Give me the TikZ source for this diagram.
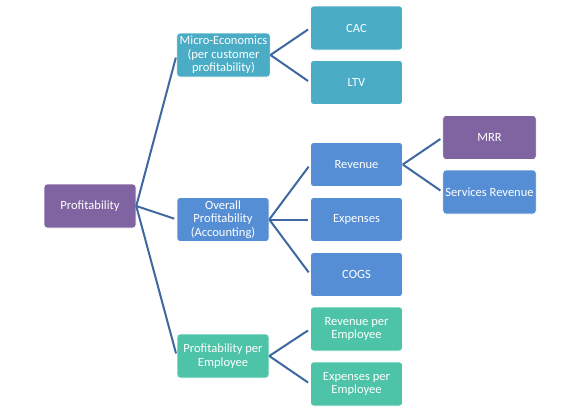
\documentclass[tikz,border=0pt]{standalone}
\usepackage{fontspec}
\setmainfont{Carlito}
\definecolor{purpbox}{RGB}{128,100,162}
\definecolor{tealbox}{RGB}{75,172,198}
\definecolor{bluebox}{RGB}{85,142,213}
\definecolor{greenbox}{RGB}{77,196,168}
\definecolor{linkcol}{RGB}{62,104,160}
\tikzset{
  box/.style={rounded corners=2.5pt, draw=white, line width=0.4pt, text=white,
    minimum width=69pt, minimum height=33pt, align=center, inner sep=0.5pt,
    font=\fontsize{9.4}{10.2}\selectfont},
  link/.style={draw=linkcol, line width=1.5pt, shorten >=2pt}
}
\begin{document}
\begin{tikzpicture}[x=0.75pt,y=-0.75pt]
      \useasboundingbox (0,0) rectangle (564,418);
      % Root
      \node[box, fill=purpbox] (prof) at (90,206) {Profitability};
      % Second level
      \node[box, fill=tealbox, minimum width=70pt] (micro) at (223.5,55) {Micro-Economics\\(per customer\\profitability)};
      \node[box, fill=bluebox] (overall) at (223,219.5) {Overall\\Profitability\\(Accounting)};
      \node[box, fill=greenbox] (peremp) at (223,356) {Profitability per\\Employee};
      % Third level
      \node[box, fill=tealbox] (cac) at (356.5,28) {CAC};
      \node[box, fill=tealbox] (ltv) at (356.5,82.5) {LTV};
      \node[box, fill=bluebox] (rev) at (356.5,164.5) {Revenue};
      \node[box, fill=bluebox] (exp) at (356.5,219.5) {Expenses};
      \node[box, fill=bluebox] (cogs) at (356.5,274.5) {COGS};
      \node[box, fill=greenbox] (revemp) at (356.5,329) {Revenue per\\Employee};
      \node[box, fill=greenbox] (expemp) at (356.5,384) {Expenses per\\Employee};
      % Fourth level
      \node[box, fill=purpbox, minimum width=70pt] (mrr) at (489.5,137.5) {MRR};
      \node[box, fill=bluebox, minimum width=70pt] (servrev) at (489.5,192) {Services Revenue};
      % Links
      \draw[link] (prof.east) -- (micro.west);
      \draw[link] (prof.east) -- (overall.west);
      \draw[link] (prof.east) -- (peremp.west);
      \draw[link] (micro.east) -- (cac.west);
      \draw[link] (micro.east) -- (ltv.west);
      \draw[link] (overall.east) -- (rev.west);
      \draw[link] (overall.east) -- (exp.west);
      \draw[link] (overall.east) -- (cogs.west);
      \draw[link] (peremp.east) -- (revemp.west);
      \draw[link] (peremp.east) -- (expemp.west);
      \draw[link] (rev.east) -- (mrr.west);
      \draw[link] (rev.east) -- (servrev.west);
\end{tikzpicture}
\end{document}
